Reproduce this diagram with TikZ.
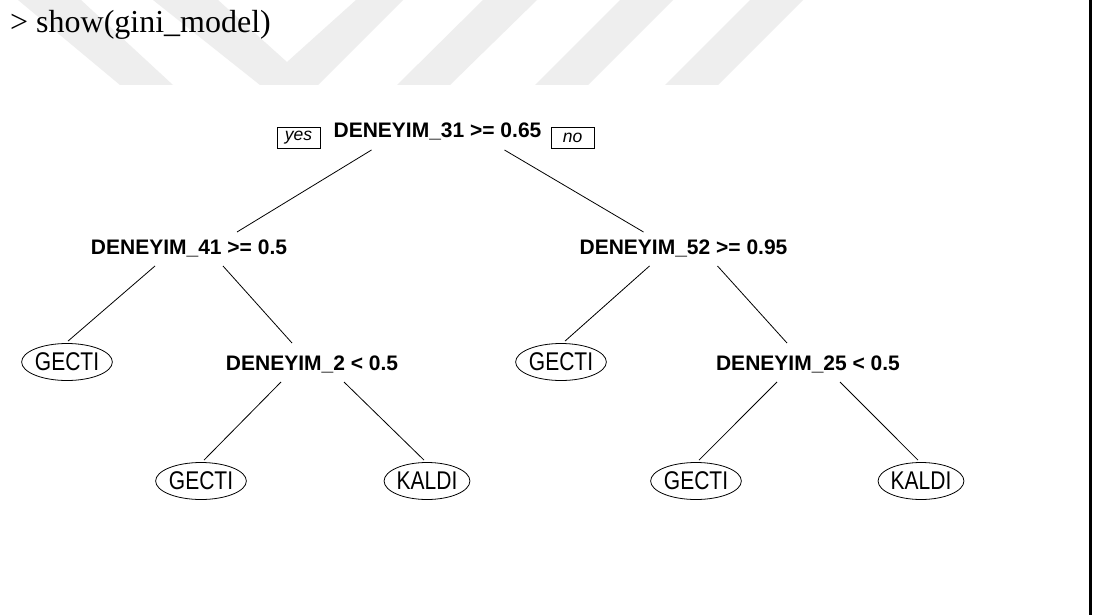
\documentclass[tikz,border=0pt]{standalone}
\usepackage{fontspec}
\usepackage{graphicx}
\setmainfont{Liberation Serif}
\setsansfont{Liberation Sans}
\usetikzlibrary{shapes.geometric,calc}
\definecolor{wmgray}{RGB}{238,238,238}
% leaf labels are set a little taller than wide
\newcommand\leaflabel[1]{\scalebox{1}[1.22]{#1}}
\begin{document}
\begin{tikzpicture}[x=1pt,y=-1pt,
  split/.style={anchor=base, inner sep=0pt,
    font=\sffamily\bfseries\fontsize{21}{21}\selectfont},
  leaf/.style={draw, ellipse, line width=0.8pt, minimum width=85pt,
    minimum height=37pt, inner sep=0pt,
    font=\sffamily\fontsize{21}{21}\selectfont},
  tag/.style={draw, line width=0.8pt, minimum width=43pt, minimum height=21pt,
    inner sep=0pt, font=\sffamily\itshape\fontsize{17.5}{17.5}\selectfont},
  branch/.style={line width=0.8pt, black}]
\useasboundingbox (0,0) rectangle (1095,615);
\fill[white] (0,0) rectangle (1095,615);

% faint background logo bands along the top edge
\fill[wmgray] (18,0) -- (81,0) -- (173,85) -- (120,85) -- cycle;
\fill[wmgray] (153,0) -- (218,0) -- (287,62) -- (356,0) -- (403,0)
  -- (318,85) -- (260,85) -- cycle;
\fill[wmgray] (483,0) -- (537,0) -- (450,85) -- (397,85) -- cycle;
\fill[wmgray] (620,0) -- (673,0) -- (588,85) -- (535,85) -- cycle;
\fill[wmgray] (750,0) -- (803,0) -- (718,85) -- (665,85) -- cycle;

% console command
\node[anchor=base west, inner sep=0pt, font=\fontsize{32}{32}\selectfont]
  (cmd) at (10,33) {> show(gini\_model)};

% right frame edge
\coordinate (frameTop) at (1090.5,0);
\coordinate (frameBot) at (1090.5,615);
\draw[line width=2.2pt] (frameTop) -- (frameBot);

% split nodes
\node[split] (root) at (437.5,138) {DENEYIM\_31 >= 0.65};
\node[split] (d41)  at (189,254)   {DENEYIM\_41 >= 0.5};
\node[split] (d52)  at (683.5,254) {DENEYIM\_52 >= 0.95};
\node[split] (d2)   at (312,370)   {DENEYIM\_2 < 0.5};
\node[split] (d25)  at (808,370)   {DENEYIM\_25 < 0.5};

% yes / no tags
\node[tag] (yes) at (298.5,137.5) {yes};
\node[tag] (no)  at (572.5,137.5) {no};

% leaves
\node[leaf] (g1) at (67,362)  {\leaflabel{GECTI}};
\node[leaf] (g2) at (561,362) {\leaflabel{GECTI}};
\node[leaf] (g3) at (201,481) {\leaflabel{GECTI}};
\node[leaf] (k1) at (427,481) {\leaflabel{KALDI}};
\node[leaf] (g4) at (696,481) {\leaflabel{GECTI}};
\node[leaf] (k2) at (921,481) {\leaflabel{KALDI}};

% branches
\draw[branch] ($(root.base)+(-66,12)$) -- ($(d41.base)+(48,-22)$);
\draw[branch] ($(root.base)+(67,12)$)  -- ($(d52.base)+(-40,-22)$);
\draw[branch] ($(d41.base)+(-34,12)$) -- ($(g1.north)+(1,-2)$);
\draw[branch] ($(d41.base)+(34,12)$)  -- ($(d2.base)+(-20,-27)$);
\draw[branch] ($(d52.base)+(-34,12)$) -- ($(g2.north)+(4,-2)$);
\draw[branch] ($(d52.base)+(34,12)$)  -- ($(d25.base)+(-21,-27)$);
\draw[branch] ($(d2.base)+(-31,12)$)  -- ($(g3.north)+(3,-2)$);
\draw[branch] ($(d2.base)+(32,12)$)   -- ($(k1.north)+(-3,-2)$);
\draw[branch] ($(d25.base)+(-31,12)$) -- ($(g4.north)+(3,-2)$);
\draw[branch] ($(d25.base)+(32,12)$)  -- ($(k2.north)+(-3,-2)$);
\end{tikzpicture}
\end{document}
